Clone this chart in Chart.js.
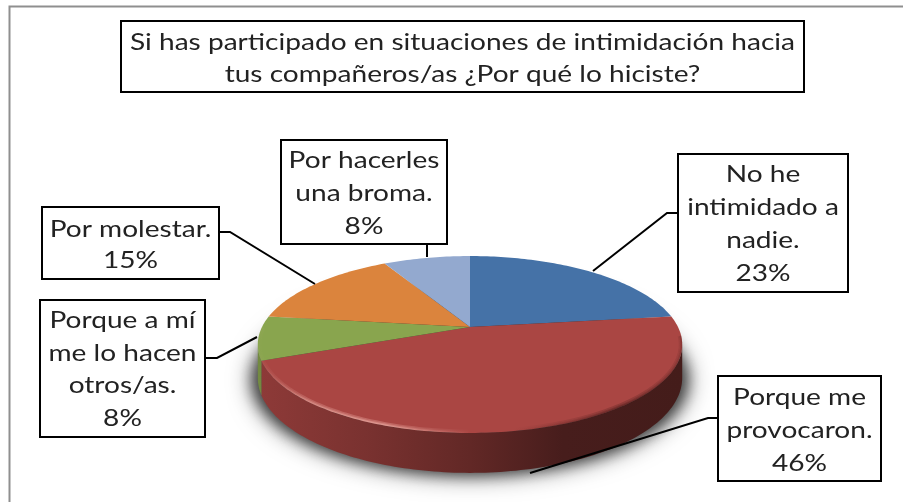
<!DOCTYPE html>
<html><head><meta charset="utf-8">
<style>html,body{margin:0;padding:0;background:#fff}canvas{display:block;filter:blur(0.45px)}</style>
<script src="https://cdn.jsdelivr.net/npm/chart.js@4"></script></head>
<body><canvas id="c" width="903" height="502"></canvas>
<script>
const titleLines = ["Si has participado en situaciones de intimidación hacia", "tus compañeros/as ¿Por qué lo hiciste?"];
const categories = [
  ["No he", "intimidado a", "nadie."],
  ["Porque me", "provocaron."],
  ["Porque a mí", "me lo hacen", "otros/as."],
  ["Por molestar."],
  ["Por hacerles", "una broma."]
];
const values = [23, 46, 8, 15, 8];
const colors = ["#4572A7", "#AA4643", "#89A54E", "#DB843D", "#93A9CF"];
// label boxes: left, top, right, bottom, first baseline, line spacing
const boxes = [
  [678, 154, 848, 292, 182, 33],
  [718, 376, 881, 481, 405, 33],
  [40, 300, 205, 437, 328, 32.7],
  [42, 207, 219, 279, 237, 31],
  [281, 140, 447, 244, 168, 33]
];
const leaders = [
  [[678,213],[667,213],[593,271]],
  [[718,418],[708,418],[530,473]],
  [[205,358],[217,358],[257,337]],
  [[219,232],[230,232],[315,284]],
  [[427,244],[427,257]]
];
const titleBox = [121, 21, 804, 92];
const titleBaselines = [50, 82];

// perspective of the pie's disc
const K = 0.198, CX = 470, CY = 327, A = 85, B = 208, DEPTH = 32;
function proj(t, s = 1) {
  const u = Math.cos(t) * s, v = Math.sin(t) * s, d = 1 - K * v;
  return [CX + B * u / d, CY + A * v / d, DEPTH / d];
}
function rimPath(ctx, a, b, down, move) {
  const n = Math.max(2, Math.ceil(Math.abs(b - a) / 0.02));
  for (let i = 0; i <= n; i++) {
    const p = proj(a + (b - a) * i / n);
    const y = p[1] + (down ? p[2] : 0);
    if (i === 0 && move) ctx.moveTo(p[0], y); else ctx.lineTo(p[0], y);
  }
}
function shade(hex, f) {
  const n = parseInt(hex.slice(1), 16);
  return `rgb(${(n >> 16) * f | 0},${((n >> 8) & 255) * f | 0},${(n & 255) * f | 0})`;
}
const pie3d = {
  id: "pie3d",
  beforeDatasetDraw(chart, args) {
    const ctx = chart.ctx, arcs = args.meta.data, TAU = Math.PI * 2;
    const tan = Math.asin(K);
    ctx.save();
    // cast shadow: only the blurred shadow of an off-canvas disc lands on the page
    ctx.save();
    const OFF = 2000;
    ctx.shadowOffsetX = OFF;
    ctx.fillStyle = "#000";
    [[0.6, 24], [0.55, 14]].forEach(([alpha, blur]) => {
      ctx.shadowColor = `rgba(0,0,0,${alpha})`;
      ctx.shadowBlur = blur;
      ctx.beginPath();
      for (let i = 0; i <= 120; i++) {
        const p = proj(i / 120 * TAU);
        const x = CX + (p[0] - CX) * 1.025 - OFF, y = p[1] + p[2] + 2;
        i ? ctx.lineTo(x, y) : ctx.moveTo(x, y);
      }
      ctx.closePath(); ctx.fill();
    });
    ctx.restore();
    // side wall
    arcs.forEach((arc, i) => {
      let a = arc.startAngle, b = arc.endAngle;
      while (b > TAU) { a -= TAU; b -= TAU; }
      a = Math.max(a, tan); b = Math.min(b, Math.PI - tan);
      if (b <= a) return;
      const g = ctx.createLinearGradient(258, 0, 682, 0), c = colors[i];
      g.addColorStop(0, shade(c, 0.84));
      g.addColorStop(0.25, shade(c, 0.72));
      g.addColorStop(0.5, shade(c, 0.58));
      g.addColorStop(0.72, shade(c, 0.42));
      g.addColorStop(1, shade(c, 0.40));
      ctx.fillStyle = g;
      ctx.beginPath();
      rimPath(ctx, a, b, false, true);
      rimPath(ctx, b, a, true, false);
      ctx.closePath(); ctx.fill();
    });
    // top face, one slice per arc element
    arcs.forEach((arc, i) => {
      ctx.save();
      ctx.fillStyle = colors[i];
      ctx.beginPath();
      ctx.moveTo(CX, CY);
      rimPath(ctx, arc.startAngle, arc.endAngle, false, false);
      ctx.closePath(); ctx.fill();
      ctx.clip();
      // bevel along the front rim only
      let a = arc.startAngle, b = arc.endAngle;
      while (b > TAU) { a -= TAU; b -= TAU; }
      a = Math.max(a, 0.1); b = Math.min(b, Math.PI);
      if (b > a) {
        const g = ctx.createLinearGradient(258, 0, 682, 0);
        g.addColorStop(0, "rgba(255,200,190,0)");
        g.addColorStop(0.12, "rgba(255,200,190,0.22)");
        g.addColorStop(0.3, "rgba(255,200,190,0.28)");
        g.addColorStop(0.5, "rgba(255,200,190,0)");
        g.addColorStop(0.6, "rgba(50,15,15,0)");
        g.addColorStop(0.85, "rgba(50,15,15,0.22)");
        g.addColorStop(1, "rgba(50,15,15,0.10)");
        ctx.strokeStyle = g;
        [7, 4, 2].forEach(w => {
          ctx.lineWidth = w;
          ctx.beginPath();
          rimPath(ctx, a, b, false, true);
          ctx.stroke();
        });
      }
      ctx.restore();
    });
    ctx.restore();
    return false;
  },
  afterDraw(chart) {
    const ctx = chart.ctx;
    ctx.save();
    // outer frame
    ctx.strokeStyle = "#8f8f8f"; ctx.lineWidth = 2;
    ctx.beginPath(); ctx.moveTo(9.5, 502); ctx.lineTo(9.5, 6.5); ctx.lineTo(903, 6.5); ctx.stroke();
    ctx.strokeStyle = "#000"; ctx.lineJoin = "miter";
    ctx.lineWidth = 2;
    leaders.forEach(l => {
      ctx.beginPath();
      l.forEach((p, i) => i ? ctx.lineTo(p[0], p[1]) : ctx.moveTo(p[0], p[1]));
      ctx.stroke();
    });
    const box = b => {
      ctx.fillStyle = "#fff"; ctx.fillRect(b[0], b[1], b[2] - b[0], b[3] - b[1]);
      ctx.strokeStyle = "#000"; ctx.lineWidth = 2; ctx.strokeRect(b[0], b[1], b[2] - b[0], b[3] - b[1]);
    };
    ctx.font = "24px Lato, sans-serif";
    ctx.textAlign = "center"; ctx.textBaseline = "alphabetic";
    const sx = 665 / ctx.measureText(titleLines[0]).width;
    const put = (s, x, y) => {
      ctx.save(); ctx.translate(x, y); ctx.scale(sx, 1);
      ctx.fillStyle = "#222"; ctx.fillText(s, 0, 0); ctx.restore();
    };
    box(titleBox);
    titleLines.forEach((s, i) => put(s, (titleBox[0] + titleBox[2]) / 2, titleBaselines[i]));
    boxes.forEach((b, i) => {
      box(b);
      const lines = [...categories[i], values[i] + "%"], cx = (b[0] + b[2]) / 2;
      lines.forEach((s, j) => put(s, cx, b[4] + j * b[5]));
    });
    ctx.restore();
  }
};
new Chart(document.getElementById("c"), {
  type: "pie",
  data: { labels: categories, datasets: [{ data: values, backgroundColor: colors, borderWidth: 0 }] },
  options: {
    responsive: false, animation: false,
    plugins: { legend: { display: false }, tooltip: { enabled: false } }
  },
  plugins: [pie3d]
});
</script></body></html>
